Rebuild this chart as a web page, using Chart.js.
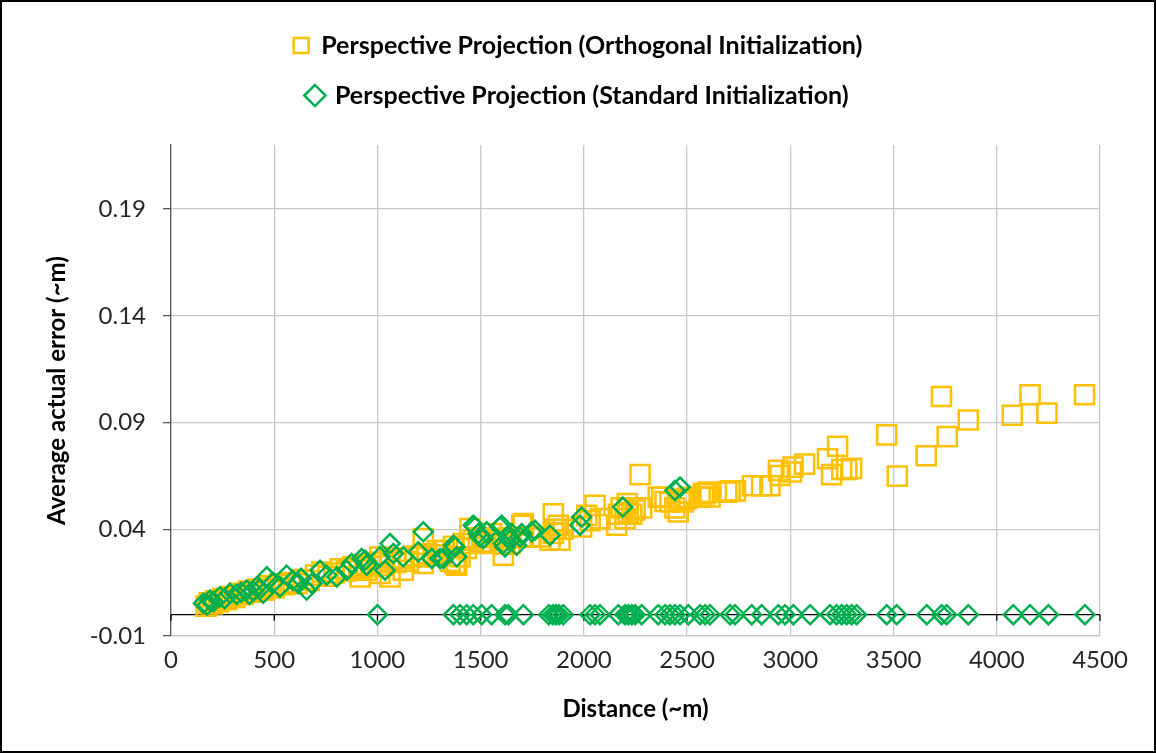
<!DOCTYPE html>
<html>
<head>
<meta charset="utf-8">
<script src="https://cdn.jsdelivr.net/npm/chart.js@4/dist/chart.umd.min.js"></script>
<style>
  html, body { margin: 0; padding: 0; background: #fff; }
  #frame {
    width: 1156px;
    height: 753px;
    box-sizing: border-box;
    border: 2px solid #000;
  }
  canvas { display: block; }
</style>
</head>
<body>
<div id="frame"><canvas id="error-chart" width="1152" height="749"></canvas></div>
<script>
// Orthogonal initialization: distance (~m) and average actual error (~m)
const orthoDistance = [
  170, 185, 200, 215, 230, 250, 270, 290, 310, 330, 350, 375, 400, 425, 450,
  475, 500, 525, 550, 580, 610, 640, 670, 700, 730, 760, 790, 820, 850, 880,
  910, 916, 940, 948, 970, 1000, 1012, 1012, 1030, 1060, 1061, 1090, 1120, 1125,
  1150, 1180, 1210, 1222, 1222, 1240, 1270, 1290,
  1303, 1320, 1352, 1368, 1376, 1384, 1400, 1416, 1432, 1448, 1464, 1489, 1505,
  1513, 1553, 1594, 1610, 1618, 1634, 1642, 1699, 1707, 1707, 1739, 1788, 1836,
  1852, 1852, 1865, 1876, 1884, 1900, 1989, 2014, 2030, 2054, 2078, 2159, 2167,
  2180, 2199, 2210, 2215, 2232, 2248, 2272, 2280, 2360, 2377, 2393, 2417, 2441,
  2457, 2466, 2482, 2498, 2506, 2563, 2579, 2587, 2603, 2611, 2692, 2708, 2734,
  2816, 2861, 2901, 2942, 2950, 3005, 3013, 3069, 3180, 3200, 3229, 3249, 3273,
  3297, 3467, 3518, 3658, 3732, 3760, 3862, 4075, 4161, 4243, 4425,
];
const orthoError = [
  0.0040, 0.0055, 0.0050, 0.0065, 0.0060, 0.0075, 0.0070, 0.0085, 0.0080, 0.0100,
  0.0095, 0.0110, 0.0105, 0.0120, 0.0115, 0.0135, 0.0125, 0.0145, 0.0140, 0.0150,
  0.0145, 0.0165, 0.0160, 0.0185, 0.0200, 0.0180, 0.0195, 0.0215, 0.0205, 0.0225,
  0.0215, 0.0177, 0.0235, 0.0208, 0.0225, 0.0245, 0.0193, 0.0270, 0.0230, 0.0255,
  0.0177, 0.0245, 0.0265, 0.0208, 0.0250, 0.0275, 0.0270, 0.0357, 0.0240, 0.0285,
  0.0280, 0.0300,
  0.0280, 0.0300, 0.0250, 0.0320, 0.0240, 0.0232, 0.0271, 0.0333, 0.0310, 0.0403,
  0.0349, 0.0360, 0.0340, 0.0333, 0.0380, 0.0349, 0.0279, 0.0330, 0.0360, 0.0333,
  0.0419, 0.0427, 0.0364, 0.0364, 0.0364, 0.0349, 0.0473, 0.0380, 0.0400, 0.0419,
  0.0349, 0.0400, 0.0411, 0.0465, 0.0440, 0.0512, 0.0450, 0.0419, 0.0470, 0.0500,
  0.0450, 0.0520, 0.0480, 0.0470, 0.0490, 0.0656, 0.0500, 0.0550, 0.0551, 0.0530,
  0.0528, 0.0500, 0.0481, 0.0540, 0.0528, 0.0543, 0.0550, 0.0550, 0.0567, 0.0567,
  0.0574, 0.0551, 0.0574, 0.0580, 0.0579, 0.0604, 0.0604, 0.0604, 0.0676, 0.0652,
  0.0668, 0.0691, 0.0705, 0.0730, 0.0656, 0.0789, 0.0680, 0.0680, 0.0685, 0.0842,
  0.0649, 0.0744, 0.1022, 0.0834, 0.0912, 0.0934, 0.1030, 0.0944, 0.1030,
];

// Standard initialization: converged runs follow the trend, failed runs sit at 0
const stdDistance = [
  157, 175, 189, 205, 237, 260, 286, 318, 340, 367, 380, 399, 415, 430, 447,
  464, 495, 528, 560, 590, 617, 630, 657, 682, 722, 754, 803, 851, 875, 924,
  940, 948, 1012, 1037, 1061, 1077, 1125, 1198, 1222, 1263, 1303, 1319, 1368,
  1376, 1384, 1464, 1473, 1489, 1497, 1513, 1529, 1594, 1602, 1610, 1618, 1634,
  1642, 1650, 1674, 1691, 1699, 1747, 1763, 1836, 1981, 1989, 2188, 2441, 2466,
  1000, 1368, 1400, 1432, 1464, 1505, 1553, 1618, 1634, 1707, 1830, 1850, 1865,
  1880, 1900, 2030, 2054, 2078, 2167, 2199, 2215, 2232, 2248, 2280, 2360, 2393,
  2417, 2441, 2466, 2506, 2563, 2587, 2611, 2708, 2732, 2813, 2861, 2942, 2974,
  3015, 3096, 3192, 3224, 3249, 3273, 3297, 3321, 3467, 3515, 3661, 3733, 3757,
  3862, 4080, 4161, 4250, 4427,
];
const stdError = [
  0.0053, 0.0045, 0.0068, 0.0060, 0.0084, 0.0075, 0.0100, 0.0095, 0.0105, 0.0115,
  0.0095, 0.0110, 0.0130, 0.0120, 0.0100, 0.0177, 0.0150, 0.0130, 0.0185, 0.0160,
  0.0146, 0.0170, 0.0115, 0.0146, 0.0208, 0.0185, 0.0177, 0.0208, 0.0240, 0.0263,
  0.0255, 0.0232, 0.0271, 0.0208, 0.0333, 0.0286, 0.0271, 0.0294, 0.0388, 0.0263,
  0.0263, 0.0263, 0.0325, 0.0317, 0.0271, 0.0419, 0.0411, 0.0380, 0.0364, 0.0357,
  0.0388, 0.0411, 0.0419, 0.0333, 0.0317, 0.0372, 0.0349, 0.0380, 0.0325, 0.0364,
  0.0380, 0.0388, 0.0395, 0.0372, 0.0419, 0.0457, 0.0504, 0.0582, 0.0598,
  0, 0, 0, 0, 0, 0, 0, 0, 0, 0, 0, 0, 0, 0, 0, 0, 0, 0, 0, 0, 0, 0, 0, 0, 0, 0,
  0, 0, 0, 0, 0, 0, 0, 0, 0, 0, 0, 0, 0, 0, 0, 0, 0, 0, 0, 0, 0, 0, 0, 0, 0, 0,
  0, 0, 0, 0, 0,
];

const yTicks = [-0.01, 0.04, 0.09, 0.14, 0.19];
const seriesNames = [
  'Perspective Projection (Orthogonal Initialization)',
  'Perspective Projection (Standard Initialization)',
];

const toPoints = (xs, ys) => xs.map((x, i) => ({ x: x, y: ys[i] }));

// black axis line at y = 0 with small tick marks, drawn under the markers
const zeroLine = {
  id: 'zeroLine',
  beforeDatasetsDraw(chart) {
    const { ctx, chartArea, scales } = chart;
    const y0 = scales.y.getPixelForValue(0);
    ctx.save();
    ctx.strokeStyle = '#000';
    ctx.lineWidth = 1.3;
    ctx.beginPath();
    ctx.moveTo(chartArea.left, y0);
    ctx.lineTo(chartArea.right, y0);
    scales.x.ticks.forEach((t) => {
      const px = scales.x.getPixelForValue(t.value);
      ctx.moveTo(px, y0);
      ctx.lineTo(px, y0 + 6);
    });
    ctx.stroke();
    ctx.restore();
  },
};

// leave room between the legend and the plot
const legendGap = {
  id: 'legendGap',
  beforeInit(chart) {
    const fit = chart.legend.fit;
    chart.legend.fit = function () {
      fit.call(this);
      this.height = 137;
    };
  },
};

const errorCanvas = document.getElementById('error-chart');

const errorData = {
  datasets: [
    {
      label: seriesNames[0],
      data: toPoints(orthoDistance, orthoError),
      pointStyle: 'rect',
      pointRadius: 13.5,
      borderColor: '#FFC000',
      backgroundColor: 'rgba(0,0,0,0)',
      borderWidth: 2.5,
      order: 2,
    },
    {
      label: seriesNames[1],
      data: toPoints(stdDistance, stdError),
      pointStyle: 'rectRot',
      pointRadius: 9.5,
      borderColor: '#00B050',
      backgroundColor: 'rgba(0,0,0,0)',
      borderWidth: 2.5,
      order: 1,
    },
  ],
};

const errorOptions = {
  responsive: false,
  devicePixelRatio: 1,
  animation: false,
  layout: {
    padding: { left: 54, right: 54, top: 6, bottom: 0 },
  },
  scales: {
    x: {
      type: 'linear',
      min: 0,
      max: 4500,
      grid: { color: '#c8c8c8', lineWidth: 1.3, drawTicks: false },
      border: { color: '#c8c8c8', width: 1.3 },
      ticks: {
        stepSize: 500,
        padding: 10,
        color: '#262626',
        font: { family: 'Lato', size: 24 },
        callback: (v) => String(v),
      },
      title: {
        display: true,
        text: 'Distance (~m)',
        color: '#000',
        font: { family: 'Lato', size: 24, weight: 'bold' },
        padding: { top: 0, bottom: 27.6 },
      },
      afterFit: (scale) => {
        scale.height = 115;
      },
    },
    y: {
      type: 'linear',
      min: -0.01,
      max: 0.22,
      afterBuildTicks: (scale) => {
        scale.ticks = yTicks.map((v) => ({ value: v }));
      },
      grid: { color: '#c8c8c8', lineWidth: 1.3, tickColor: '#595959', tickLength: 8 },
      border: { color: '#595959', width: 1.3 },
      ticks: {
        padding: 17,
        color: '#262626',
        font: { family: 'Lato', size: 24 },
        callback: (v) => v.toFixed(2),
      },
      title: {
        display: true,
        text: 'Average actual error (~m)',
        color: '#000',
        font: { family: 'Lato', size: 24, weight: 'bold' },
        padding: { top: -13, bottom: 0 },
      },
      afterFit: (scale) => {
        scale.width = 115;
      },
    },
  },
  plugins: {
    legend: {
      position: 'top',
      labels: {
        usePointStyle: true,
        boxWidth: 15,
        boxHeight: 15,
        padding: 25,
        color: '#000',
        font: { family: 'Lato', size: 25, weight: 'bold' },
        sort: (a, b) => a.datasetIndex - b.datasetIndex,
      },
    },
    tooltip: { enabled: false },
  },
};

let errorChart = new Chart(errorCanvas, {
  type: 'scatter',
  data: errorData,
  options: errorOptions,
  plugins: [zeroLine, legendGap],
});
</script>
</body>
</html>
